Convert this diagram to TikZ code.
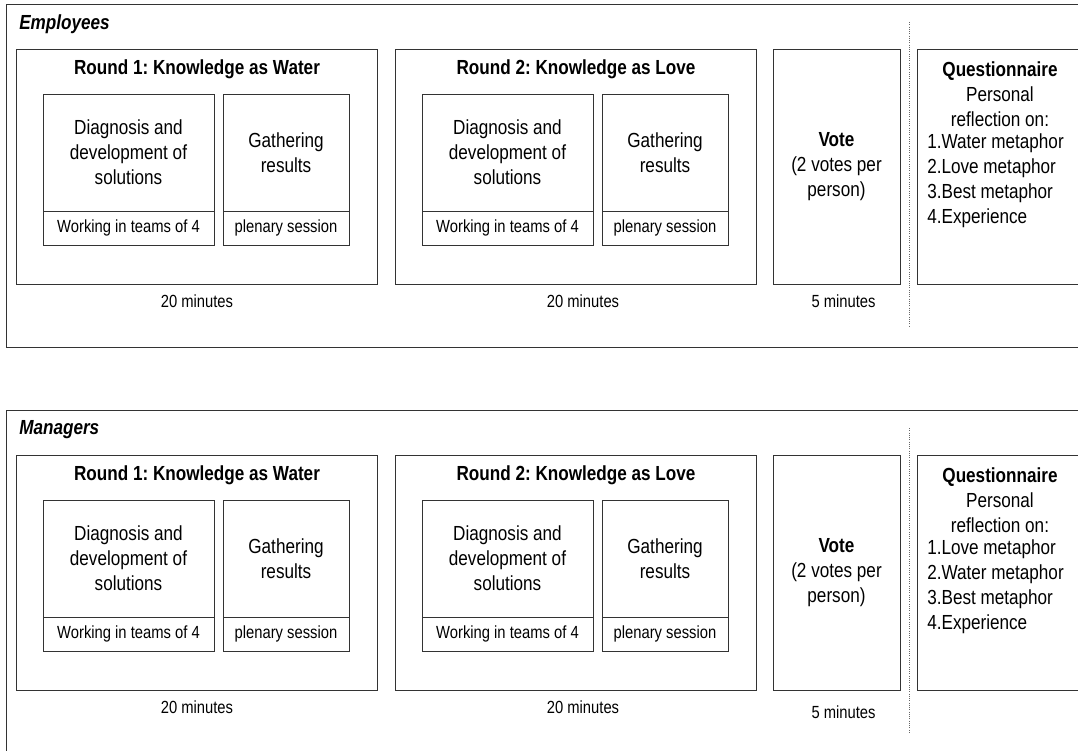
\documentclass[tikz,border=0pt]{standalone}
\usepackage{fontspec}
\setmainfont{Liberation Sans}[FakeStretch=0.84]
\usepackage{tikz}
\frenchspacing

\tikzset{
  box/.style={shape=rectangle,draw=black!80,line width=0.6pt,inner sep=0pt},
  big/.style={font=\fontsize{14.5}{17.8}\selectfont,align=center},
  small/.style={font=\fontsize{12.5}{15}\selectfont,align=center},
}

\begin{document}
\begin{tikzpicture}[x=0.025cm,y=-0.025cm]
\clip (0,0) rectangle (1078,750);
\fill[white] (0,0) rectangle (1078,750);

\foreach \p/\off/\who/\one/\two/\five in {e/0/Employees/Water/Love/301,m/406/Managers/Love/Water/306}{
\begin{scope}[shift={(0,\off)}]
% group frame
\path (553.5,175.5) node (frame\p) [box,minimum width=27.325cm,minimum height=8.575cm] {};
\path (19,24) node (who\p) [big,anchor=west,inner sep=0pt] {\textbf{\textit{\who}}};

% round 1
\path (196.5,166.5) node (rone\p) [box,minimum width=9.025cm,minimum height=5.875cm] {};
\path (197,69) node (ronet\p) [big] {\textbf{Round 1: Knowledge as Water}};
\path (128.5,152.5) node (diaga\p) [box,big,minimum width=4.275cm,minimum height=2.925cm] {Diagnosis and\\development of\\solutions};
\path (128.5,228) node (teama\p) [box,small,minimum width=4.275cm,minimum height=0.85cm] {Working in teams of 4};
\path (286,152.5) node (gatha\p) [box,big,minimum width=3.15cm,minimum height=2.925cm] {Gathering\\results};
\path (286,228) node (plena\p) [box,small,minimum width=3.15cm,minimum height=0.85cm] {plenary session};
\path (197,301) node (timea\p) [small] {20 minutes};

% round 2
\path (575.5,166.5) node (rtwo\p) [box,minimum width=9.025cm,minimum height=5.875cm] {};
\path (576,69) node (rtwot\p) [big] {\textbf{Round 2: Knowledge as Love}};
\path (507.5,152.5) node (diagb\p) [box,big,minimum width=4.275cm,minimum height=2.925cm] {Diagnosis and\\development of\\solutions};
\path (507.5,228) node (teamb\p) [box,small,minimum width=4.275cm,minimum height=0.85cm] {Working in teams of 4};
\path (665,152.5) node (gathb\p) [box,big,minimum width=3.15cm,minimum height=2.925cm] {Gathering\\results};
\path (665,228) node (plenb\p) [box,small,minimum width=3.15cm,minimum height=0.85cm] {plenary session};
\path (583,301) node (timeb\p) [small] {20 minutes};

% vote
\path (836.5,166.5) node (vote\p) [box,big,minimum width=3.175cm,minimum height=5.875cm] {\textbf{Vote}\\(2 votes per\\person)};
\path (843.5,\five) node (timec\p) [small] {5 minutes};

% separator
\coordinate (septop\p) at (909,22);
\coordinate (sepbot\p) at (909,327);
\draw [black!60,densely dotted,line width=0.6pt] (septop\p) -- (sepbot\p);

% questionnaire
\path (1017,166.5) node (quest\p) [box,minimum width=5cm,minimum height=5.875cm] {};
\path (1000,94) node (qhead\p) [big] {\textbf{Questionnaire}\\Personal\\reflection on:};
\path (927,180.5) node (qlist\p) [big,align=left,anchor=west,inner sep=0pt] {1.\one{} metaphor\\2.\two{} metaphor\\3.Best metaphor\\4.Experience};
\end{scope}
}
\end{tikzpicture}
\end{document}
